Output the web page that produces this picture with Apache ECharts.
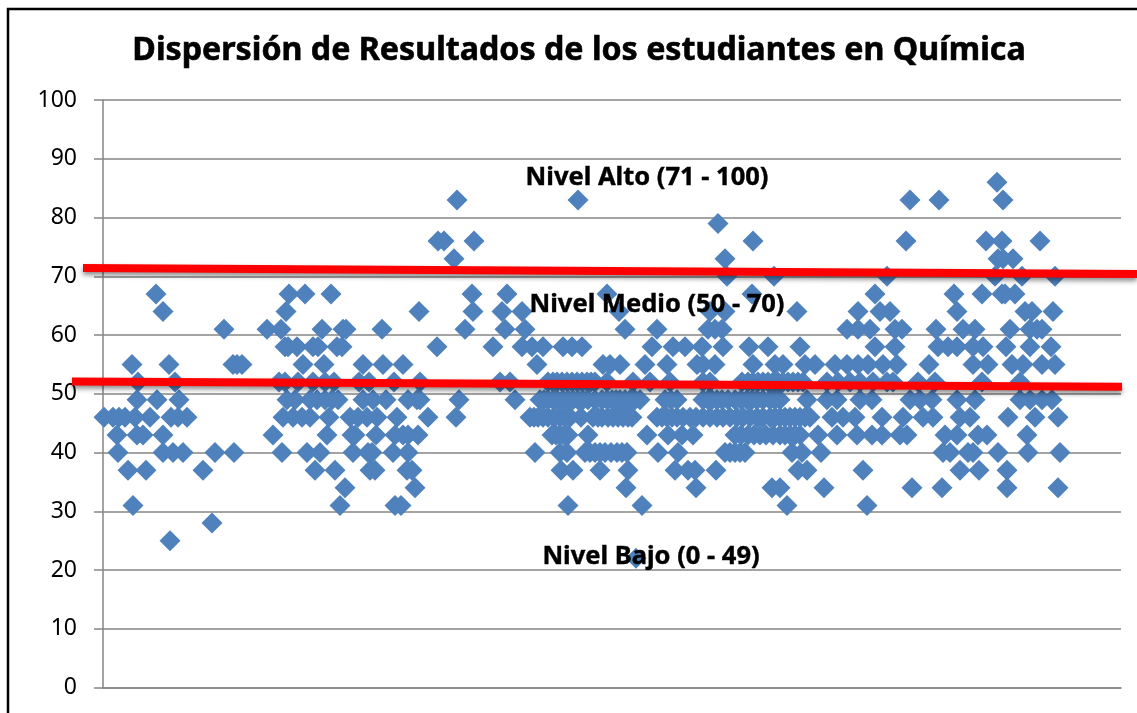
<!DOCTYPE html>
<html>
<head>
<meta charset="utf-8">
<title>Dispersión de Resultados</title>
<script src="https://cdn.jsdelivr.net/npm/echarts@6/dist/echarts.min.js"></script>
<style>
html, body { margin: 0; padding: 0; background: #fff; overflow: hidden; }
#chart { width: 1137px; height: 713px; }
</style>
</head>
<body>
<div id="chart"></div>
<script>
// position of each student along the x axis, one list per score
var x86 = [894];
var x83 = [354, 475, 807, 836, 900];
var x79 = [615];
var x76 = [335, 341, 371, 650, 803, 883, 899, 937];
var x73 = [351, 622, 895, 900, 910];
var x70 = [624, 671, 784, 892, 919, 952];
var x67 = [53, 186, 202, 228, 369, 404, 504, 649, 772, 851, 879, 899, 902, 912];
var x64 = [60, 183, 316, 370, 399, 419, 516, 607, 622, 694, 755, 777, 787, 854, 922, 929, 950];
var x61 = [121, 164, 178, 219, 240, 243, 279, 362, 402, 422, 522, 554, 605, 612, 619, 744, 755, 767, 792, 799, 833, 860, 872, 907, 927, 934, 939];
var x58 = [182, 185, 194, 210, 215, 234, 239, 334, 390, 419, 429, 440, 460, 469, 479, 549, 570, 582, 599, 620, 646, 665, 697, 772, 792, 835, 845, 854, 870, 880, 903, 927, 948];
var x55 = [29, 66, 130, 134, 139, 200, 221, 260, 280, 300, 434, 500, 507, 517, 542, 564, 594, 600, 612, 650, 672, 680, 702, 712, 732, 744, 755, 765, 780, 794, 826, 870, 885, 909, 920, 939, 952];
var x52 = [35, 72, 176, 182, 195, 210, 222, 231, 256, 266, 291, 317, 397, 407, 445, 450, 454, 459, 464, 469, 474, 479, 484, 488, 492, 504, 530, 547, 567, 600, 607, 639, 645, 650, 655, 660, 665, 670, 675, 680, 685, 690, 695, 700, 724, 735, 747, 757, 770, 784, 790, 815, 832, 879, 917];
var x49 = [34, 54, 76, 184, 192, 207, 214, 222, 229, 235, 260, 270, 283, 305, 314, 317, 356, 412, 437, 441, 445, 450, 454, 460, 465, 470, 475, 480, 485, 492, 499, 504, 509, 513, 517, 522, 527, 532, 537, 562, 568, 574, 600, 605, 609, 614, 619, 625, 632, 638, 644, 649, 654, 660, 667, 672, 677, 704, 724, 734, 757, 769, 807, 817, 829, 854, 872, 917, 927, 939, 949];
var x46 = [1, 10, 16, 22, 32, 47, 68, 75, 84, 180, 190, 199, 207, 226, 247, 255, 264, 274, 294, 325, 353, 427, 431, 435, 440, 445, 451, 457, 462, 467, 478, 490, 495, 499, 505, 510, 515, 520, 525, 529, 554, 559, 564, 569, 574, 580, 587, 593, 600, 607, 614, 620, 627, 634, 640, 647, 654, 660, 667, 672, 677, 682, 687, 692, 697, 702, 707, 729, 740, 752, 779, 800, 820, 830, 857, 867, 905, 932, 955];
var x43 = [14, 34, 40, 60, 170, 224, 249, 252, 273, 292, 300, 305, 315, 449, 453, 457, 461, 465, 485, 544, 565, 579, 590, 632, 638, 645, 651, 657, 663, 670, 677, 682, 687, 692, 697, 715, 734, 754, 769, 779, 797, 804, 842, 854, 875, 884, 924];
var x40 = [15, 60, 70, 80, 112, 131, 179, 204, 217, 250, 265, 269, 290, 305, 432, 457, 464, 482, 487, 492, 497, 502, 508, 514, 519, 524, 555, 575, 622, 627, 632, 637, 642, 689, 699, 718, 840, 847, 865, 870, 895, 925, 957];
var x37 = [25, 43, 100, 212, 232, 267, 272, 304, 309, 458, 470, 497, 525, 572, 585, 592, 613, 695, 704, 760, 857, 876, 904];
var x34 = [242, 312, 523, 593, 669, 677, 721, 809, 839, 904, 955];
var x31 = [30, 237, 292, 298, 465, 539, 684, 764];
var x28 = [109];
var x25 = [67];
var x22 = [533];

var scores = [86, 83, 79, 76, 73, 70, 67, 64, 61, 58, 55, 52, 49, 46, 43, 40, 37, 34, 31, 28, 25, 22];
var scoreLists = [x86, x83, x79, x76, x73, x70, x67, x64, x61, x58, x55, x52, x49, x46, x43, x40, x37, x34, x31, x28, x25, x22];

// the two hand drawn red lines: x1, y1, x2, y2
var lineAlto = [-20, 71.4, 1034, 70.4];
var lineMedio = [-31, 52.1, 1019, 51.2];

var yTicks = [0, 10, 20, 30, 40, 50, 60, 70, 80, 90, 100];

var puntos = [];
scores.forEach(function (s, i) {
    scoreLists[i].forEach(function (x) {
        puntos.push([x, s]);
    });
});

var fuente = '"Noto Sans", sans-serif';
var gris = '#868686';

function nivel(text, x, y) {
    return {
        text: text,
        left: x,
        top: y,
        textAlign: 'center',
        textVerticalAlign: 'middle',
        textStyle: { fontFamily: fuente, fontSize: 25.5, fontWeight: 'bold', color: '#000', textBorderColor: '#000', textBorderWidth: 0.4 },
        z: 10
    };
}

// a line series gets cut at the grid, these two run past it
function rojo(data) {
    return {
        type: 'custom',
        data: [data],
        z: 5,
        silent: true,
        clip: false,
        renderItem: function (params, api) {
            var a = api.coord([api.value(0), api.value(1)]);
            var b = api.coord([api.value(2), api.value(3)]);
            return {
                type: 'line',
                shape: { x1: a[0], y1: a[1], x2: b[0], y2: b[1] },
                style: {
                    stroke: '#ff0000',
                    lineWidth: 8,
                    shadowColor: 'rgba(0,0,0,.45)',
                    shadowBlur: 5,
                    shadowOffsetY: 3
                }
            };
        }
    };
}

var myChart = echarts.init(document.getElementById('chart'));
var option = {
    animation: false,
    backgroundColor: '#fff',
    title: [
        { text: 'Dispersión de Resultados de los estudiantes en Química', left: 574, top: 46, textAlign: 'center', textVerticalAlign: 'middle', textStyle: { fontFamily: fuente, fontSize: 32.2, fontWeight: 'bold', color: '#000', textBorderColor: '#000', textBorderWidth: 0.6 }, z: 10 },
        nivel('Nivel Alto (71 - 100)', 642, 173),
        nivel('Nivel Medio (50 - 70)', 652, 300),
        nivel('Nivel Bajo (0 - 49)', 646, 552)
    ],
    grid: { left: 103, top: 100, width: 1018, height: 587.5 },
    xAxis: {
        type: 'value',
        min: 0,
        max: 1018,
        axisLine: { show: true, onZero: false, lineStyle: { color: gris, width: 1.5 } },
        axisTick: { show: false },
        axisLabel: { show: false },
        splitLine: { show: false }
    },
    yAxis: {
        type: 'value',
        min: yTicks[0],
        max: yTicks[yTicks.length - 1],
        interval: 10,
        axisLine: { show: true, lineStyle: { color: gris, width: 1.5 } },
        axisTick: { show: true, length: 9, lineStyle: { color: gris, width: 1.5 } },
        axisLabel: { margin: 26, fontFamily: fuente, fontSize: 23, color: '#000' },
        splitLine: { show: true, lineStyle: { color: gris, width: 1.5 } }
    },
    graphic: [{
        type: 'rect',
        z: 0,
        silent: true,
        shape: { x: 8, y: 9, width: 1300, height: 900 },
        style: { fill: 'none', stroke: '#000', lineWidth: 2.5 }
    }],
    series: [
        {
            type: 'scatter',
            data: puntos,
            symbol: 'diamond',
            symbolSize: 21,
            z: 3,
            itemStyle: { color: '#4f81bd', opacity: 1 }
        },
        rojo(lineAlto),
        rojo(lineMedio)
    ]
};
myChart.setOption(option);
window.addEventListener('resize', function () {
    myChart.resize();
});
</script>
</body>
</html>
